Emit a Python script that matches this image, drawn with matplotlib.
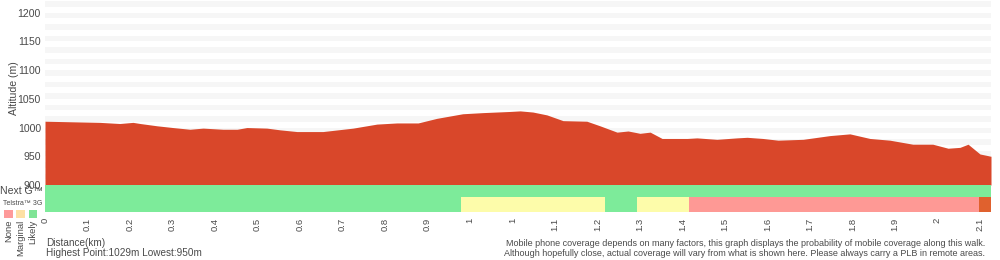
import matplotlib
matplotlib.use("Agg")
import matplotlib.pyplot as plt
from matplotlib.patches import Rectangle

plt.rcParams['font.family'] = ['Liberation Sans', 'DejaVu Sans']

# ---- data ----
dist_km = [0.000, 0.129, 0.176, 0.207, 0.224, 0.264, 0.301, 0.341, 0.372, 0.419,
           0.452, 0.475, 0.522, 0.553, 0.593, 0.654, 0.725, 0.781, 0.828, 0.878,
           0.922, 0.983, 1.031, 1.094, 1.118, 1.148, 1.181, 1.219, 1.275, 1.306,
           1.346, 1.372, 1.400, 1.424, 1.452, 1.511, 1.534, 1.581, 1.628, 1.652,
           1.689, 1.725, 1.784, 1.847, 1.894, 1.941, 1.988, 2.042, 2.089, 2.125,
           2.153, 2.172, 2.200, 2.226]
altitude_m = [1011, 1009, 1007, 1009, 1007, 1003, 1000, 997, 999, 997,
              997, 1000, 999, 996, 993, 993, 999, 1006, 1008, 1008,
              1016, 1024, 1026, 1028, 1029, 1027, 1022, 1012, 1011, 1003,
              992, 994, 990, 992, 981, 981, 982, 979.5, 982, 983,
              981, 978, 979.5, 986, 989, 981, 978, 971, 971, 964,
              965.5, 971, 954, 950]

yticks = [900, 950, 1000, 1050, 1100, 1150, 1200]
xtick_pos = [i * 0.1 for i in range(23)]
xtick_labels = ["0", "0.1", "0.2", "0.3", "0.4", "0.5", "0.6", "0.7", "0.8", "0.9",
                "1", "1", "1.1", "1.2", "1.3", "1.4", "1.5", "1.6", "1.7", "1.8",
                "1.9", "2", "2.1"]

nextg_segments = [(0.0, 2.226, "likely")]
g3_segments = [(0.0, 0.979, "likely"), (0.979, 1.318, "marginal"),
               (1.318, 1.393, "likely"), (1.393, 1.515, "marginal"),
               (1.515, 2.198, "none"), (2.198, 2.226, "end")]

highest = 1029
lowest = 950

# ---- styles ----
RED = "#d9472a"
COV_COLORS = {"likely": "#7deb9a", "marginal": "#fdfcaa", "none": "#fe9995", "end": "#e0612e"}
LEG_COLORS = ["#fe9a9a", "#fee0a4", "#7fe496"]
TXT = "#4a4a4a"

W, H = 1000, 260
fig = plt.figure(figsize=(W / 100, H / 100), dpi=100)


def fx(x):
    return x / W


def fy(y):
    return 1 - y / H


def px(v):
    return v * 0.72


x_left, x_right = 45, 991
ax = fig.add_axes([fx(x_left), fy(185), fx(x_right - x_left), (185 - 0) / H])
xmax = 2.226
ax.set_xlim(0, xmax)
ax.set_ylim(900, 1222)
for lo in range(910, 1221, 20):
    ax.axhspan(lo, lo + 10, color="#f6f6f6", lw=0, zorder=0)
ax.fill_between(dist_km, 900, altitude_m, color=RED, lw=0, zorder=2)
ax.set_yticks(yticks)
ax.set_yticklabels([str(t) for t in yticks], fontsize=px(10.5), color=TXT)
ax.tick_params(axis="y", length=0, pad=3)
ax.set_xticks([])
for s in ax.spines.values():
    s.set_visible(False)
fig.text(fx(14), fy(88), "Altitude (m)", fontsize=px(10.5), color=TXT, rotation=90,
         va="center", ha="center")

# coverage strip
sax = fig.add_axes([fx(x_left), fy(212), fx(x_right - x_left), 27 / H])
sax.set_xlim(0, xmax)
sax.set_ylim(0, 27)
for a, b, k in nextg_segments:
    sax.add_patch(Rectangle((a, 15), b - a, 12, color=COV_COLORS[k], lw=0))
for a, b, k in g3_segments:
    sax.add_patch(Rectangle((a, 0), b - a, 15, color=COV_COLORS[k], lw=0))
sax.set_yticks([])
sax.set_xticks(xtick_pos)
sax.set_xticklabels(xtick_labels, rotation=90, fontsize=px(9.5), color=TXT,
                    va="top", ha="center")
sax.tick_params(axis="x", length=0, pad=4)
for s in sax.spines.values():
    s.set_visible(False)

# left labels
fig.text(fx(0), fy(191), "Next G\u2122", fontsize=px(10.5), color=TXT, va="center", ha="left")
fig.text(fx(3), fy(203.5), "Telstra\u2122 3G", fontsize=px(7), color=TXT, va="center", ha="left")
for i, (c, lab) in enumerate(zip(LEG_COLORS, ["None", "Marginal", "Likely"])):
    x0 = 4 + i * 12.3
    fig.patches.append(Rectangle((fx(x0), fy(217.5)), 8.5 / W, 7.5 / H, color=c,
                                 transform=fig.transFigure, lw=0))
    fig.text(fx(x0 + 4.5), fy(220), lab, fontsize=px(9.5), color=TXT, rotation=90,
             va="top", ha="center")

fig.text(fx(46), fy(243.5), "Distance(km)", fontsize=px(10), color=TXT, va="center", ha="left")
fig.text(fx(46), fy(253.5), f"Highest Point:{highest}m Lowest:{lowest}m", fontsize=px(10),
         color=TXT, va="center", ha="left")
fig.text(fx(985), fy(243.5),
         "Mobile phone coverage depends on many factors, this graph displays the probability of mobile coverage along this walk.",
         fontsize=px(9), color=TXT, va="center", ha="right")
fig.text(fx(985), fy(253.5),
         "Although hopefully close, actual coverage will vary from what is shown here. Please always carry a PLB in remote areas.",
         fontsize=px(9), color=TXT, va="center", ha="right")

fig.savefig("out.png", dpi=100)
